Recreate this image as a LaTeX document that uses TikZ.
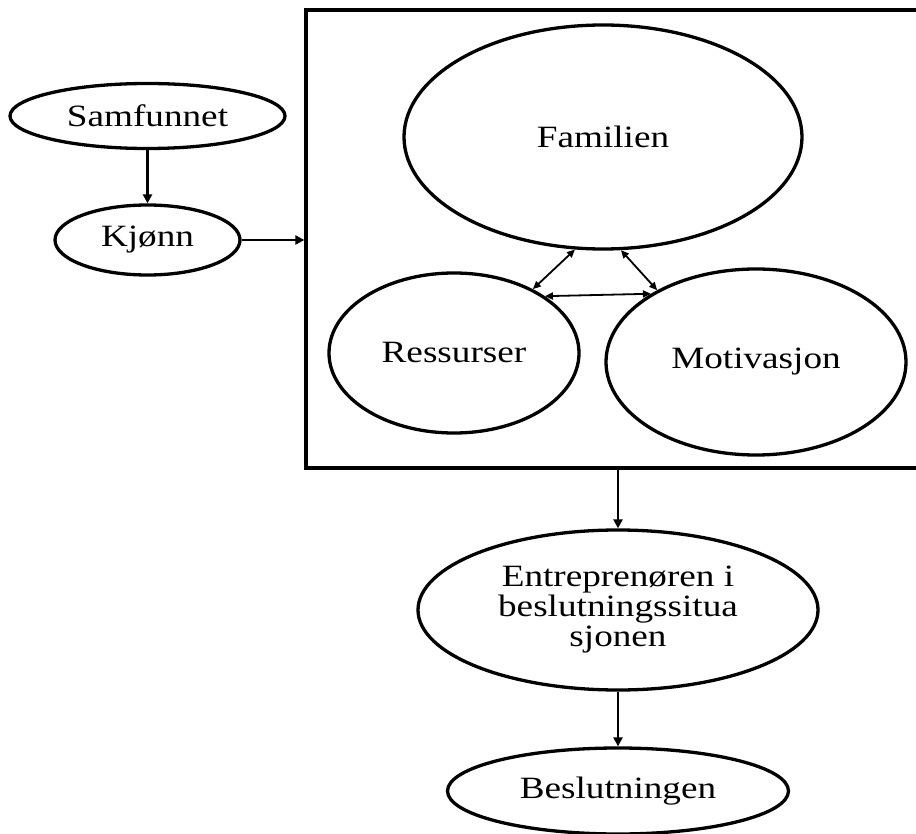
\documentclass[tikz,border=0pt]{standalone}
\usepackage{fontspec}
\setmainfont{Liberation Serif}[FakeStretch=1.2]
\usetikzlibrary{shapes.geometric,arrows.meta}
\begin{document}
\begin{tikzpicture}[x=1pt,y=-1pt,
  oval/.style={ellipse,draw,line width=3.3pt,inner sep=0pt,align=center,
    font=\fontsize{31}{30}\selectfont},
  link/.style={line width=2.3pt,-{Triangle[length=9pt,width=9pt]}},
  both/.style={line width=1.8pt,
    {Triangle[length=8pt,width=7pt]}-{Triangle[length=8pt,width=7pt]}}]
\useasboundingbox (0,0) rectangle (916,834);

% frame around the family block
\node[draw,line width=3.3pt,minimum width=614pt,minimum height=458pt,inner sep=0pt]
  (frame) at (613,239) {};

% ellipses
\node[oval,minimum width=275pt,minimum height=65pt] (samf) at (147.5,116) {Samfunnet};
\node[oval,minimum width=185pt,minimum height=70pt] (kjonn) at (147.5,240) {Kjønn};
\node[oval,minimum width=398pt,minimum height=224pt] (fam) at (603,137) {Familien};
\node[oval,minimum width=250pt,minimum height=160pt] (res) at (454,353) {Ressurser};
\node[oval,minimum width=300pt,minimum height=186pt] (mot) at (756,362) {Motivasjon};
\node[oval,minimum width=400pt,minimum height=160pt] (entr) at (618,610)
  {Entreprenøren i\\beslutningssitua\\sjonen};
\node[oval,minimum width=341pt,minimum height=86pt] (besl) at (618,791) {Beslutningen};

% connectors
\draw[link] (samf.south) -- (kjonn.north);
\draw[link] (kjonn.east) -- (kjonn.east -| frame.west);
\draw[link] (frame.south -| entr.north) -- (entr.north);
\draw[link] (entr.south) -- (besl.north);
\draw[both] (fam.256) -- (res.39);
\draw[both] (fam.279) -- (mot.144);
\draw[both] (res.32) -- (mot.147);
\end{tikzpicture}
\end{document}
